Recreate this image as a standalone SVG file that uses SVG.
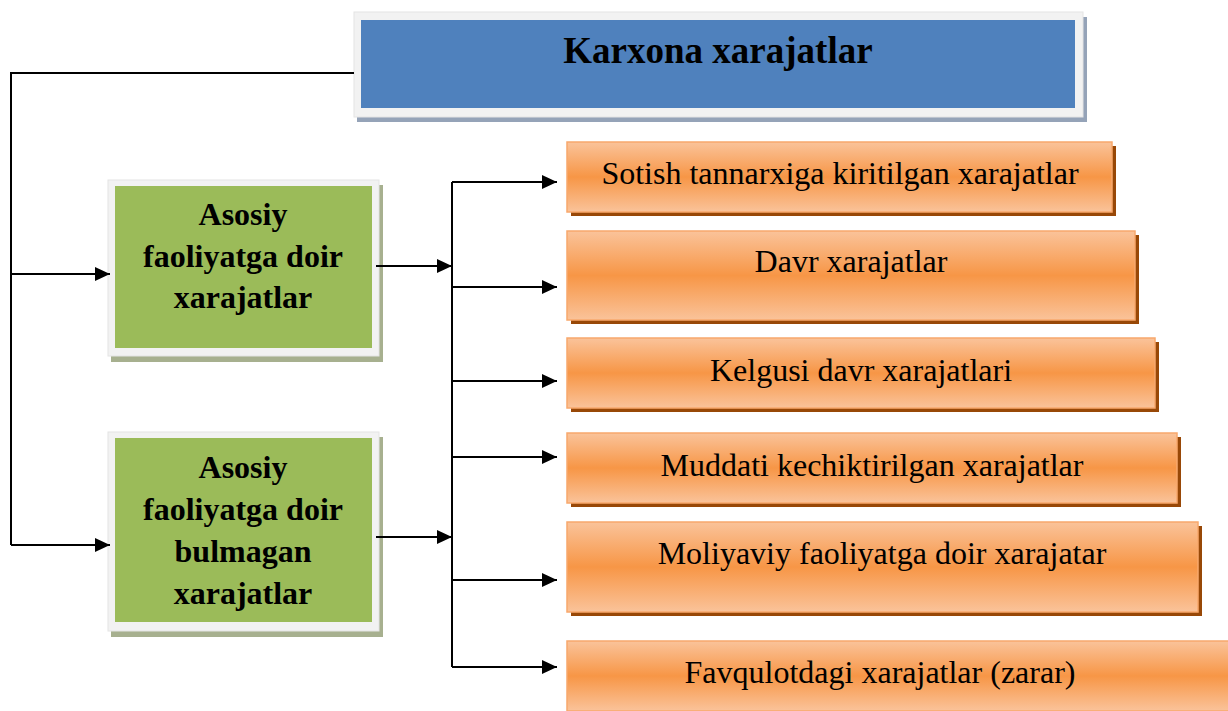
<svg xmlns="http://www.w3.org/2000/svg" width="1228" height="711" viewBox="0 0 1228 711">
<style>
.t{font-family:"Liberation Serif","Times New Roman",serif;fill:#000;text-anchor:middle}
.b{font-weight:bold}
.ln{fill:none;stroke:#000;stroke-width:2}
.or{fill:url(#og);stroke:#f8a86c;stroke-width:1.5}
.osh{fill:#984807}
.frame{fill:#f2f2f2;stroke:#e4e4e4;stroke-width:1}
</style>
<defs>
<linearGradient id="og" x1="0" y1="0" x2="0" y2="1">
<stop offset="0" stop-color="#fac39a"/>
<stop offset="0.5" stop-color="#f79646"/>
<stop offset="1" stop-color="#fac39a"/>
</linearGradient>
<marker id="ar" markerWidth="16" markerHeight="16" refX="15" refY="7.5" orient="auto" markerUnits="userSpaceOnUse">
<path d="M0,0.5 L15,7.5 L0,14.5 Z" fill="#000"/>
</marker>
</defs>
<g id="title">
<rect x="357" y="17" width="730" height="105" fill="#95a3b8"/>
<rect class="frame" x="354" y="12" width="729" height="105"/>
<rect x="361" y="20" width="714" height="88" fill="#4f81bd"/>
<text class="t b" x="718" y="63" font-size="37">Karxona xarajatlar</text>
</g>
<g id="green1">
<rect x="111" y="185" width="272" height="177" fill="#a7b08f"/>
<rect class="frame" x="108" y="180" width="271" height="176"/>
<rect x="115" y="186" width="257" height="162" fill="#9bbb59"/>
<text class="t b" font-size="32" x="243"><tspan x="243" y="225">Asosiy</tspan><tspan x="243" y="267">faoliyatga doir</tspan><tspan x="243" y="308">xarajatlar</tspan></text>
</g>
<g id="green2">
<rect x="111" y="437" width="272" height="200" fill="#a7b08f"/>
<rect class="frame" x="108" y="432" width="271" height="199"/>
<rect x="115" y="438" width="257" height="184" fill="#9bbb59"/>
<text class="t b" font-size="32" x="243"><tspan x="243" y="478">Asosiy</tspan><tspan x="243" y="520">faoliyatga doir</tspan><tspan x="243" y="562">bulmagan</tspan><tspan x="243" y="604">xarajatlar</tspan></text>
</g>
<g id="o1">
<rect class="osh" x="571" y="146" width="545" height="70"/>
<rect class="or" x="567" y="142" width="545" height="70"/>
<text class="t" x="840" y="184" font-size="32">Sotish tannarxiga kiritilgan xarajatlar</text>
</g>
<g id="o2">
<rect class="osh" x="571" y="235" width="568" height="89"/>
<rect class="or" x="567" y="231" width="568" height="89"/>
<text class="t" x="851" y="272" font-size="32">Davr xarajatlar</text>
</g>
<g id="o3">
<rect class="osh" x="571" y="342" width="588" height="70"/>
<rect class="or" x="567" y="338" width="588" height="70"/>
<text class="t" x="861" y="381" font-size="32">Kelgusi davr xarajatlari</text>
</g>
<g id="o4">
<rect class="osh" x="571" y="437" width="610" height="70"/>
<rect class="or" x="567" y="433" width="610" height="70"/>
<text class="t" x="872" y="476" font-size="32">Muddati kechiktirilgan xarajatlar</text>
</g>
<g id="o5">
<rect class="osh" x="571" y="526" width="631" height="90"/>
<rect class="or" x="567" y="522" width="631" height="90"/>
<text class="t" x="882" y="564" font-size="32">Moliyaviy faoliyatga doir xarajatar</text>
</g>
<g id="o6">
<rect class="osh" x="571" y="645" width="665" height="70"/>
<rect class="or" x="567" y="641" width="665" height="70"/>
<text class="t" x="880" y="683" font-size="32">Favqulotdagi xarajatlar (zarar)</text>
</g>
<g id="connectors">
<path class="ln" d="M354,73 H11 V545"/>
<path class="ln" d="M11,274 H110" marker-end="url(#ar)"/>
<path class="ln" d="M11,545 H110" marker-end="url(#ar)"/>
<path class="ln" d="M376,266 H452" marker-end="url(#ar)"/>
<path class="ln" d="M376,537 H452" marker-end="url(#ar)"/>
<path class="ln" d="M452,182 V667"/>
<path class="ln" d="M452,182 H557" marker-end="url(#ar)"/>
<path class="ln" d="M452,287 H557" marker-end="url(#ar)"/>
<path class="ln" d="M452,381 H557" marker-end="url(#ar)"/>
<path class="ln" d="M452,457 H557" marker-end="url(#ar)"/>
<path class="ln" d="M452,580 H557" marker-end="url(#ar)"/>
<path class="ln" d="M452,667 H557" marker-end="url(#ar)"/>
</g>
</svg>
